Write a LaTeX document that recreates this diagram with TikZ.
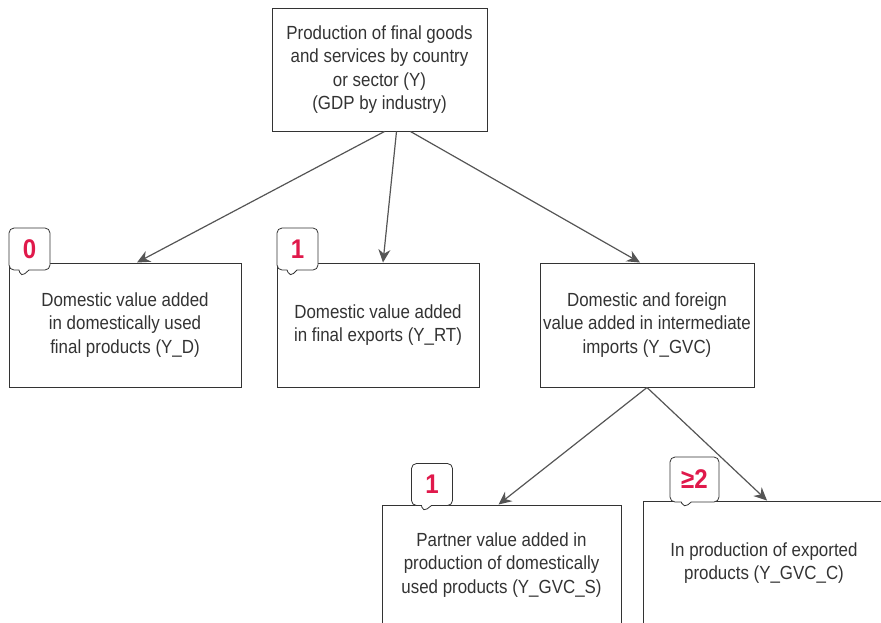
\documentclass[tikz,border=0pt]{standalone}
\usepackage{fontspec}
\setmainfont[FakeStretch=0.89]{Liberation Sans}
\usetikzlibrary{shapes.callouts,arrows.meta}

\definecolor{boxline}{HTML}{333333}
\definecolor{arrowgray}{HTML}{555555}
\definecolor{badgered}{HTML}{E0194B}

\tikzset{
  flowbox/.style={draw=boxline, line width=1pt, align=center, text=boxline,
    inner sep=2pt, font=\fontsize{19}{23.5}\selectfont},
  badge/.style={rectangle callout, draw=boxline, fill=white, line width=0.8pt,
    rounded corners=5pt, minimum width=41pt, minimum height=42pt, inner sep=0pt,
    callout pointer width=10pt, text=badgered, text depth=-3pt,
    font=\bfseries\fontsize{27}{28}\selectfont},
  link/.style={draw=arrowgray, line width=1.2pt, -{Stealth[length=13pt,width=12pt]}}
}

\begin{document}
\begin{tikzpicture}[x=1pt,y=-1pt]
\useasboundingbox (0,0) rectangle (881,622);
\clip (0,0) rectangle (881,622);

% boxes
\node[flowbox, minimum width=215pt, minimum height=123pt] (prod) at (379.5,69.5)
  {Production of final goods\\and services by country\\or sector (Y)\\(GDP by industry)};
\node[flowbox, minimum width=232pt, minimum height=124pt] (dom) at (125,325)
  {Domestic value added\\in domestically used\\final products (Y\_D)};
\node[flowbox, minimum width=202pt, minimum height=124pt] (rt) at (378,325)
  {Domestic value added\\in final exports (Y\_RT)};
\node[flowbox, minimum width=214pt, minimum height=124pt] (gvc) at (647,325)
  {Domestic and foreign\\value added in intermediate\\imports (Y\_GVC)};
\node[flowbox, minimum width=239pt, minimum height=120pt] (gvcs) at (501.5,565)
  {Partner value added in\\production of domestically\\used products (Y\_GVC\_S)};
\node[flowbox, minimum width=242pt, minimum height=124pt] (gvcc) at (764,563)
  {In production of exported\\products (Y\_GVC\_C)};

% connectors
\draw[link] ([xshift=5pt]prod.south) -- ([xshift=12pt]dom.north);
\draw[link] ([xshift=17pt]prod.south) -- ([xshift=5pt]rt.north);
\draw[link] ([xshift=31pt]prod.south) -- ([xshift=-7pt]gvc.north);
\draw[link] (gvc.south) -- ([xshift=-3pt]gvcs.north);
\draw[link] (gvc.south) -- ([xshift=3pt]gvcc.north);

% badges
\node[badge, callout absolute pointer={(21,277)}] (b0) at (29.5,249) {0};
\node[badge, callout absolute pointer={(290,277)}] (b1) at (297.5,249) {1};
\node[badge, callout absolute pointer={(423,512)}] (b1s) at (432,484.5) {1};
\node[badge, minimum width=49pt, minimum height=45pt,
  callout absolute pointer={(684,508)}] (b2) at (694.5,479.5) {≥2};
\end{tikzpicture}
\end{document}
